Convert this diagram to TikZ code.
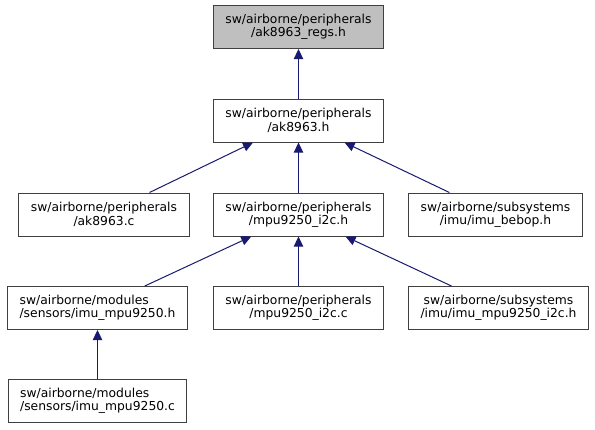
\documentclass[tikz,border=0pt]{standalone}
\usepackage{fontspec}
\setmainfont{DejaVu Sans}
\usetikzlibrary{arrows.meta, positioning, calc}
\tikzset{every node/.style={font=\fontsize{9.25pt}{10pt}\selectfont}}
\colorlet{boxline}{black!75}
\colorlet{boxfill}{white}
\colorlet{rootfill}{black!25}
\definecolor{edgecol}{RGB}{25,25,112}
\tikzset{
  filebox/.style={draw=boxline, fill=boxfill, line width=0.75pt, align=center,
    minimum height=32.25pt, inner xsep=9pt, inner ysep=2pt},
  rootbox/.style={filebox, fill=rootfill},
}

\begin{document}
\begin{tikzpicture}[x=0.75pt, y=-0.75pt, >={Triangle[length=7.5pt, width=7pt]}]
\useasboundingbox (0,0) rectangle (595,429);

% Root header
\node[rootbox] (regs) at (298.5,27) {sw/airborne/peripherals\\/ak8963\_regs.h};

% Row 1
\node[filebox] (akh) at (298.5,120.5) {sw/airborne/peripherals\\/ak8963.h};

% Row 2
\node[filebox] (akc) at (104,214.5) {sw/airborne/peripherals\\/ak8963.c};
\node[filebox] (mpuh) at (298.5,214.5) {sw/airborne/peripherals\\/mpu9250\_i2c.h};
\node[filebox] (bebop) at (495.5,214.5) {sw/airborne/subsystems\\/imu/imu\_bebop.h};

% Row 3
\node[filebox, align=left] (imuh) at (97.5,308) {sw/airborne/modules\\/sensors/imu\_mpu9250.h};
\node[filebox] (mpuc) at (298.5,308) {sw/airborne/peripherals\\/mpu9250\_i2c.c};
\node[filebox] (imui2c) at (498.5,308) {sw/airborne/subsystems\\/imu/imu\_mpu9250\_i2c.h};

% Row 4
\node[filebox, align=left] (imuc) at (97.5,401) {sw/airborne/modules\\/sensors/imu\_mpu9250.c};

% Include edges
\draw[->, edgecol, line width=0.75pt] (akh) -- (regs);
\draw[->, edgecol, line width=0.75pt] (akc) -- (akh);
\draw[->, edgecol, line width=0.75pt] (mpuh) -- (akh);
\draw[->, edgecol, line width=0.75pt] (bebop) -- (akh);
\draw[->, edgecol, line width=0.75pt] (imuh) -- (mpuh);
\draw[->, edgecol, line width=0.75pt] (mpuc) -- (mpuh);
\draw[->, edgecol, line width=0.75pt] (imui2c) -- (mpuh);
\draw[->, edgecol, line width=0.75pt] (imuc) -- (imuh);

\end{tikzpicture}
\end{document}
